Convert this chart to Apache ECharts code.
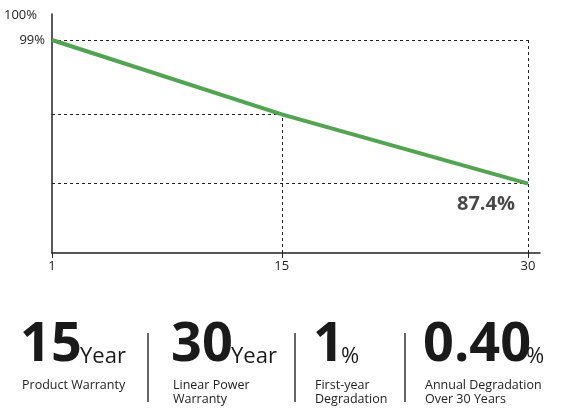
<!DOCTYPE html><html><head><meta charset="utf-8">
<script src="https://cdn.jsdelivr.net/npm/echarts@6/dist/echarts.min.js"></script>
<style>body{margin:0}#c{width:565px;height:419px}</style></head><body><div id="c"></div>
<script>
var years=[1,15,30];
var values=[99,93.0,87.4];
var xTicks=[1,15,30];
var stats=[{big:'15',unit:'Year',l1:'Product Warranty',l2:''},{big:'30',unit:'Year',l1:'Linear Power',l2:'Warranty'},{big:'1',unit:'%',l1:'First-year',l2:'Degradation'},{big:'0.40',unit:'%',l1:'Annual Degradation',l2:'Over 30 Years'}];
var statX=[20,171,313,423];
var seps=[148,295,405];
var ymin=81.8, ymax=101.1;
var dash={type:[3,3],color:'#222',width:1};
var ml=[
 [{coord:[years[0],values[0]]},{coord:[years[2],values[0]]}],
 [{coord:[years[0],values[1]]},{coord:[years[1],values[1]]}],
 [{coord:[years[0],values[2]]},{coord:[years[2],values[2]]}],
 [{coord:[years[1],ymin]},{coord:[years[1],values[1]]}],
 [{coord:[years[2],ymin]},{coord:[years[2],values[0]]}]
];
var g=[];
g.push({type:'text',left:4,top:9,style:{text:'100%',font:'13px "Open Sans"',fill:'#222'}});
stats.forEach(function(s,i){
 var x=statX[i];
 var t={type:'text',x:x,y:373,style:{text:s.big,font:'bold 54px "Open Sans"',fill:'#1a1a1a',textVerticalAlign:'bottom'}};
 g.push(t);
 var w=s.big.length*30-(s.big.indexOf('.')>=0?17:0)+(s.big.length===1?-2:0);
 g.push({type:'text',x:x+w,y:368,style:{text:s.unit,font:'22px "Open Sans"',fill:'#1a1a1a',textVerticalAlign:'bottom'}});
 g.push({type:'text',x:x+2,y:378,style:{text:s.l1+(s.l2?'\n'+s.l2:''),font:'12.5px "Open Sans"',lineHeight:14,fill:'#222'}});
});
seps.forEach(function(x){g.push({type:'line',shape:{x1:x,y1:333,x2:x,y2:402},style:{stroke:'#333',lineWidth:1.5}});});
var ch=echarts.init(document.getElementById('c'));
ch.setOption({animation:false,
 grid:{left:52,right:25,top:14,bottom:166},
 xAxis:{type:'value',min:1,max:30.73,splitLine:{show:false},
  axisLine:{lineStyle:{color:'#222',width:1.5}},
  axisTick:{customValues:xTicks,length:5,inside:false,lineStyle:{color:'#222'}},
  axisLabel:{customValues:xTicks,color:'#222',fontSize:13,fontFamily:'Open Sans',margin:7}},
 yAxis:{type:'value',min:ymin,max:ymax,splitLine:{show:false},axisTick:{show:false},
  axisLine:{show:true,lineStyle:{color:'#222',width:1.5}},
  axisLabel:{customValues:[99],formatter:'{value}%',color:'#222',fontSize:13,fontFamily:'Open Sans',margin:7}},
 series:[{type:'line',data:years.map(function(y,i){return [y,values[i]];}),symbol:'none',
  lineStyle:{color:'#52a452',width:4},z:5,
  markLine:{silent:true,symbol:'none',label:{show:false},lineStyle:dash,data:ml,z:1}},
  {type:'scatter',data:[[years[2],values[2]]],symbolSize:0,label:{show:true,position:'bottom',offset:[-42,6],formatter:values[2]+'%',fontSize:20,fontWeight:'bold',color:'#1a1a1a',fontFamily:'Open Sans'}}],
 graphic:g});
</script></body></html>
